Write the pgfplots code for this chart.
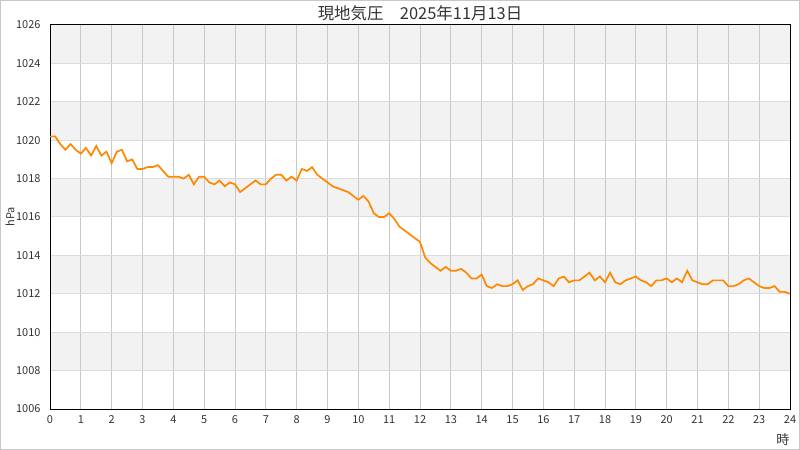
\documentclass[border=0pt]{standalone}
\usepackage{pgfplots}
\pgfplotsset{compat=1.18}
\usepackage{pgfplotstable}
\usepackage{fontspec}
\setmainfont{Noto Sans CJK JP}
\definecolor{bandgray}{RGB}{242,242,242}
\definecolor{gridv}{RGB}{200,200,200}
\definecolor{gridh}{RGB}{220,220,220}
\definecolor{txtgray}{RGB}{51,51,51}
\definecolor{lineorange}{RGB}{255,136,0}
\definecolor{framegray}{RGB}{200,200,200}
\pgfplotstableread{
t p
0 1020.2
10 1020.2
20 1019.8
30 1019.5
40 1019.8
50 1019.5
60 1019.3
70 1019.6
80 1019.2
90 1019.7
100 1019.2
110 1019.4
120 1018.8
130 1019.4
140 1019.5
150 1018.9
160 1019.0
170 1018.5
180 1018.5
190 1018.6
200 1018.6
210 1018.7
220 1018.4
230 1018.1
240 1018.1
250 1018.1
260 1018.0
270 1018.2
280 1017.7
290 1018.1
300 1018.1
310 1017.8
320 1017.7
330 1017.9
340 1017.6
350 1017.8
360 1017.7
370 1017.3
380 1017.5
390 1017.7
400 1017.9
410 1017.7
420 1017.7
430 1018.0
440 1018.2
450 1018.2
460 1017.9
470 1018.1
480 1017.9
490 1018.5
500 1018.4
510 1018.6
520 1018.2
530 1018.0
540 1017.8
550 1017.6
560 1017.5
570 1017.4
580 1017.3
590 1017.1
600 1016.9
610 1017.1
620 1016.8
630 1016.2
640 1016.0
650 1016.0
660 1016.2
670 1015.9
680 1015.5
690 1015.3
700 1015.1
710 1014.9
720 1014.7
730 1013.9
740 1013.6
750 1013.4
760 1013.2
770 1013.4
780 1013.2
790 1013.2
800 1013.3
810 1013.1
820 1012.8
830 1012.8
840 1013.0
850 1012.4
860 1012.3
870 1012.5
880 1012.4
890 1012.4
900 1012.5
910 1012.7
920 1012.2
930 1012.4
940 1012.5
950 1012.8
960 1012.7
970 1012.6
980 1012.4
990 1012.8
1000 1012.9
1010 1012.6
1020 1012.7
1030 1012.7
1040 1012.9
1050 1013.1
1060 1012.7
1070 1012.9
1080 1012.6
1090 1013.1
1100 1012.6
1110 1012.5
1120 1012.7
1130 1012.8
1140 1012.9
1150 1012.7
1160 1012.6
1170 1012.4
1180 1012.7
1190 1012.7
1200 1012.8
1210 1012.6
1220 1012.8
1230 1012.6
1240 1013.2
1250 1012.7
1260 1012.6
1270 1012.5
1280 1012.5
1290 1012.7
1300 1012.7
1310 1012.7
1320 1012.4
1330 1012.4
1340 1012.5
1350 1012.7
1360 1012.8
1370 1012.6
1380 1012.4
1390 1012.3
1400 1012.3
1410 1012.4
1420 1012.1
1430 1012.1
1440 1012.0
}\pressure
\begin{document}
\begin{tikzpicture}
\draw[framegray, line width=1bp] (-49.5bp,-40.5bp) rectangle (749.5bp,408.5bp);
\begin{axis}[
  set layers,
  at={(0,0)}, anchor=south west,
  scale only axis, width=740bp, height=384bp,
  xmin=0, xmax=24, ymin=1006, ymax=1026,
  xtick={0,1,...,24}, ytick={1006,1008,...,1026},
  grid=major,
  x grid style={gridv, line width=1bp},
  y grid style={gridh, line width=1bp},
  major tick length=0pt,
  axis line style={black, line width=1bp},
  /pgf/number format/assume math mode=true,
  /pgf/number format/1000 sep={},
  tick label style={font=\fontsize{11}{13}\selectfont, text=txtgray},
  xticklabel style={yshift=-3bp},
  yticklabel style={xshift=-6bp},
  title={現地気圧　2025年11月13日},
  title style={font=\fontsize{16.5}{19}\selectfont, text=txtgray, at={(axis description cs:0.5,1)}, anchor=center, yshift=6bp},
  ylabel={hPa},
  ylabel style={font=\fontsize{11}{13}\selectfont, text=txtgray, at={(axis description cs:-0.054,0.5)}, anchor=center},
  xlabel={時},
  xlabel style={font=\fontsize{13}{15}\selectfont, text=txtgray, at={(axis description cs:0.9905,-0.0807)}, anchor=center},
]
\addplot[fill=bandgray, draw=none, on layer=axis background] coordinates {(0,1024) (24,1024) (24,1026) (0,1026)};
\addplot[fill=bandgray, draw=none, on layer=axis background] coordinates {(0,1020) (24,1020) (24,1022) (0,1022)};
\addplot[fill=bandgray, draw=none, on layer=axis background] coordinates {(0,1016) (24,1016) (24,1018) (0,1018)};
\addplot[fill=bandgray, draw=none, on layer=axis background] coordinates {(0,1012) (24,1012) (24,1014) (0,1014)};
\addplot[fill=bandgray, draw=none, on layer=axis background] coordinates {(0,1008) (24,1008) (24,1010) (0,1010)};
\addplot[lineorange, line width=1.7bp, mark=none] table[x expr=\thisrow{t}/60, y=p] {\pressure};
\end{axis}
\pgfresetboundingbox
\path[use as bounding box] (-50bp,-41bp) rectangle (750bp,409bp);
\end{tikzpicture}
\end{document}
